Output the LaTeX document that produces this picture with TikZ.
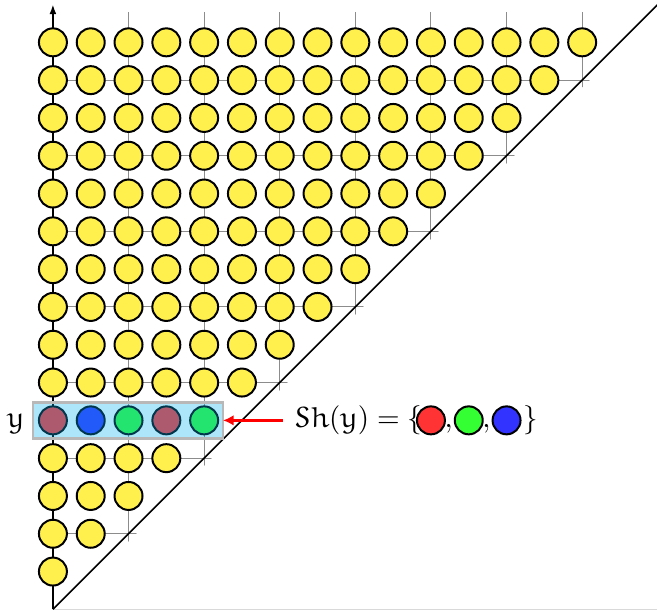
\documentclass[tikz,border=0pt]{standalone}
\usepackage{amsfonts}
\DeclareMathAlphabet{\mathEu}{U}{eur}{m}{n}
\usetikzlibrary{arrows.meta}
\definecolor{yel}{RGB}{255,240,77}
\definecolor{cred}{RGB}{255,51,51}
\definecolor{cgreen}{RGB}{51,255,51}
\definecolor{cblue}{RGB}{51,51,255}
\definecolor{hl}{RGB}{0,174,239}
\begin{document}
\begin{tikzpicture}[x=0.5cm,y=0.5cm,
  dot/.style={circle,draw=black,line width=0.75pt,minimum size=0.37cm,inner sep=0pt,fill=yel},
  gridline/.style={black!45,line width=0.4pt},
  axisline/.style={black,line width=0.6pt},
  hlbox/.style={draw=black!28,line width=0.9pt,fill=hl,fill opacity=0.32},
  pointer/.style={red,line width=1.1pt,-{Latex[length=4pt,width=4pt]}},
  txt/.style={inner sep=0pt,anchor=base,font=\fontsize{11}{13}\selectfont}
]
\useasboundingbox (-1.40,-0.04) rectangle (15.98,16.12);
% grid above the diagonal
\begin{scope}
  \clip (0,-0.2) -- (16,15.8) -- (16,16.2) -- (0,16.2) -- cycle;
  \draw[gridline] (0,0) grid (15.2,15.8);
\end{scope}
\coordinate (O) at (0,0);
\coordinate (top) at (0,16);
\coordinate (diag) at (16,16);
\coordinate (xend) at (16,0);
\draw[black!15,line width=0.5pt] (O) -- (xend);
\draw[axisline,-{Latex[length=3.6pt,width=2.6pt]}] (O) -- (top);
\draw[axisline] (O) -- (diag);
% circles
\foreach \j in {1,...,15} {
  \pgfmathtruncatemacro\last{\j-1}
  \foreach \k in {0,...,\last} {
    \ifnum\j=5\relax\else
      \node[dot] (c-\k-\j) at (\k,\j) {};
    \fi
  }
}
\node[dot,fill=cred]   (c-0-5) at (0,5) {};
\node[dot,fill=cblue]  (c-1-5) at (1,5) {};
\node[dot,fill=cgreen] (c-2-5) at (2,5) {};
\node[dot,fill=cred]   (c-3-5) at (3,5) {};
\node[dot,fill=cgreen] (c-4-5) at (4,5) {};
% highlight
\coordinate (hlA) at (-0.52,4.52);
\coordinate (hlB) at (4.5,5.47);
\coordinate (hlE) at (4.5,5);
\coordinate (tail) at (6.08,5);
\draw[hlbox] (hlA) rectangle (hlB);
\draw[pointer] (tail) -- (hlE);
% labels
\node[txt] (ylab) at (-0.98,4.82) {$\mathEu{y}$};
\node[txt,anchor=base west] (sh) at (6.38,4.82) {$\mathEu{Sh}(\mathEu{y})=\{$};
\node[dot,fill=cred]   (r1) at (10,5) {};
\node[txt] (cm1) at (10.47,4.82) {$,$};
\node[dot,fill=cgreen] (g1) at (11,5) {};
\node[txt] (cm2) at (11.47,4.82) {$,$};
\node[dot,fill=cblue]  (b1) at (12,5) {};
\node[txt] (cl) at (12.65,4.82) {$\}$};
\end{tikzpicture}
\end{document}
